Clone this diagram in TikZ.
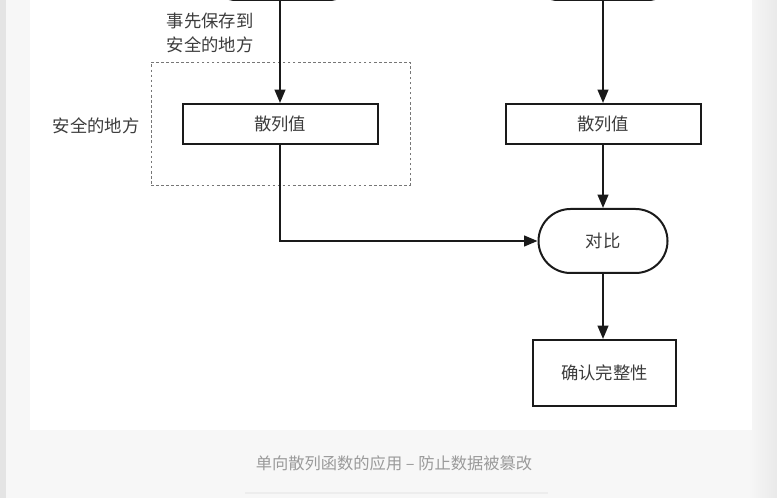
\documentclass[tikz,border=0pt]{standalone}
\usepackage{fontspec}
\newfontfamily\cjk{Noto Sans CJK SC}
\usetikzlibrary{arrows.meta,shapes.misc}
\definecolor{pagebg}{HTML}{F7F7F7}
\definecolor{edgebg}{HTML}{E4E4E4}
\definecolor{capgray}{HTML}{9A9A9A}
\definecolor{ink}{HTML}{1A1A1A}
\tikzset{
  box/.style={draw=ink, line width=1.5pt, fill=white, inner sep=0pt, font=\cjk\fontsize{13}{15}\selectfont, text=ink!85},
  roundbox/.style={box, rounded rectangle},
  flow/.style={draw=ink, line width=1.5pt, -{Triangle[length=10pt,width=8pt]}},
  lbl/.style={font=\cjk\fontsize{13}{18}\selectfont, text=ink!85, align=left, inner sep=0pt},
}
\begin{document}
\begin{tikzpicture}[x=0.75pt,y=-0.75pt]
\useasboundingbox (0,0) rectangle (777,498);
% backgrounds
\fill[pagebg] (0,0) rectangle (777,498);
\fill[edgebg] (0,0) rectangle (6,498);
\shade[left color=pagebg, right color=edgebg!80] (748,0) rectangle (777,498);
\fill[white] (30,0) rectangle (752,430);
% top partial shapes
\draw[ink, line width=1.5pt, rounded corners=8pt] (223,-20) -- (223,0) -- (342,0) -- (342,-20);
\draw[ink, line width=1.5pt, rounded corners=8pt] (545,-20) -- (545,0) -- (661,0) -- (661,-20);
\coordinate (topL) at (280,0);
\coordinate (topR) at (603,0);
% safe place region
\node[draw=ink!60, dashed, dash pattern=on 2pt off 1.8pt, line width=0.7pt, minimum width=259*0.75pt, minimum height=123*0.75pt, inner sep=0pt] (safe) at (280.5,123.5) {};
\node[lbl] (safelbl) at (96,126) {安全的地方};
\node[lbl] (savelbl) at (210,33) {事先保存到\\安全的地方};
% nodes
\node[box, minimum width=195*0.75pt, minimum height=40*0.75pt] (hashL) at (280,124) {散列值};
\node[box, minimum width=195*0.75pt, minimum height=40*0.75pt] (hashR) at (603,124) {散列值};
\node[roundbox, minimum width=129*0.75pt, minimum height=64*0.75pt] (cmp) at (603,241) {对比};
\node[box, minimum width=143*0.75pt, minimum height=66*0.75pt] (ok) at (604.5,373) {确认完整性};
% connectors
\draw[flow] (topL) -- (hashL.north);
\draw[flow] (topR) -- (hashR.north);
\draw[flow] (hashL.south) |- (cmp.west);
\draw[flow] (hashR.south) -- (cmp.north);
\draw[flow] (cmp.south) -- (cmp.south |- ok.north);
% caption
\node[font=\cjk\fontsize{12.2}{15}\selectfont, text=capgray, inner sep=0pt] (cap) at (394,463) {单向散列函数的应用 – 防止数据被篡改};
\draw[black!7, line width=0.8pt] (245,493) -- (548,493);
\end{tikzpicture}
\end{document}
